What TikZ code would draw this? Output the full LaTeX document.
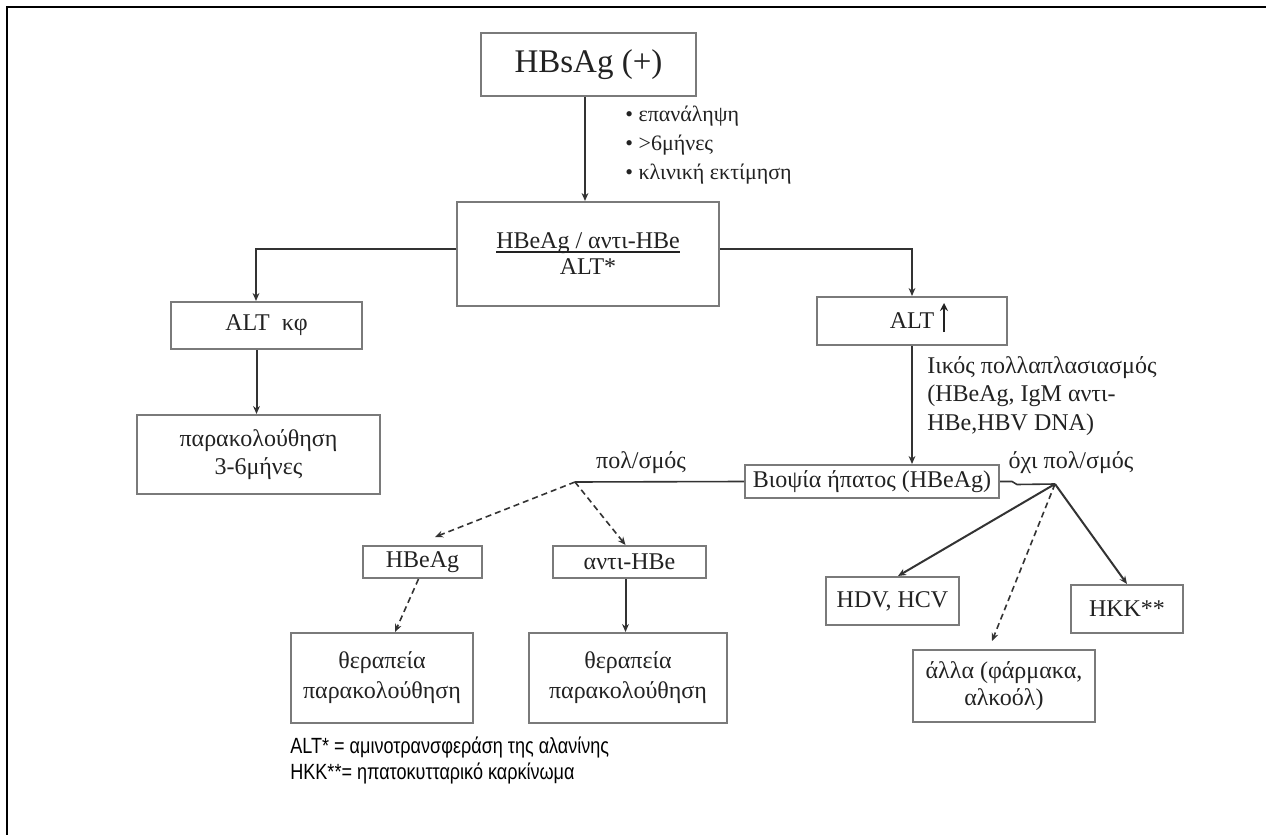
\documentclass[tikz,border=0pt]{standalone}
\usepackage{fontspec}
\setmainfont{Liberation Serif}
\newfontfamily\footfont[FakeStretch=0.82]{Liberation Sans}
\usetikzlibrary{arrows.meta}
\definecolor{boxgray}{HTML}{7A7A7A}
\definecolor{inkgray}{HTML}{222222}
\definecolor{linegray}{HTML}{333333}
\newcommand\myul[1]{\setbox0\hbox{#1}\rlap{\rule[-1.8pt]{\wd0}{0.6pt}}\box0}
\begin{document}
\begin{tikzpicture}[x=0.5pt,y=-0.5pt,
  box/.style={draw=boxgray, line width=1pt, rectangle, inner sep=0pt, align=center,
    text=inkgray, font=\fontsize{12}{14}\selectfont},
  lbl/.style={inner sep=0pt, text=inkgray, font=\fontsize{12}{14}\selectfont},
  arr/.style={draw=linegray, line width=1pt, -{Stealth[length=4pt,width=3.4pt]}},
  ln/.style={draw=linegray, line width=0.8pt},
  dsh/.style={densely dashed, line width=0.8pt}]
\useasboundingbox (0,0) rectangle (1266,835);
\fill[white] (0,0) rectangle (1266,835);
\draw[black, line width=1pt] (7,835) -- (7,7) -- (1266,7);

% nodes
\node[box, minimum width=107.5pt, minimum height=31.5pt, font=\fontsize{16.5}{18}\selectfont] (hbs) at (588.5,64.5) {HBsAg (+)};
\node[box, minimum width=131pt, minimum height=52pt, font=\fontsize{12}{13}\selectfont] (hbe) at (588,254) {\myul{HBeAg / αντι-HBe}\\ALT*};
\node[box, minimum width=95.5pt, minimum height=23.5pt] (altk) at (266.5,325.5) {ALT\ \ κφ};
\node[box, minimum width=121.5pt, minimum height=39.5pt, font=\fontsize{12}{14}\selectfont] (parak) at (258.5,454.5) {παρακολούθηση\\3-6μήνες};
\node[box, minimum width=95pt, minimum height=24pt] (altup) at (912,321) {ALT};
\node[box, minimum width=127pt, minimum height=16.5pt] (bio) at (872,481.5) {Βιοψία ήπατος (HBeAg)};
\node[box, minimum width=59.5pt, minimum height=16pt] (hbeag) at (422.5,562) {HBeAg};
\node[box, minimum width=76.5pt, minimum height=16pt] (antihbe) at (629.5,562) {αντι-HBe};
\node[box, minimum width=91pt, minimum height=45pt, font=\fontsize{12}{15}\selectfont] (ther1) at (382,678) {θεραπεία\\παρακολούθηση};
\node[box, minimum width=99pt, minimum height=45pt, font=\fontsize{12}{15}\selectfont] (ther2) at (628,678) {θεραπεία\\παρακολούθηση};
\node[box, minimum width=66.5pt, minimum height=24pt] (hdv) at (892.5,601) {HDV, HCV};
\node[box, minimum width=91pt, minimum height=36pt, font=\fontsize{12}{13.5}\selectfont] (alla) at (1004,686) {άλλα (φάρμακα,\\αλκοόλ)};
\node[box, minimum width=56pt, minimum height=24pt] (hkk) at (1127,609) {HKK**};

% the up-arrow glyph beside ALT
\draw[draw=inkgray, line width=1.3pt, -{Stealth[length=4pt,width=4pt]}] ([xshift=16pt,yshift=-5.5pt]altup.center) -- ([xshift=16pt,yshift=9pt]altup.center);

% labels
\node[lbl, anchor=west, align=left, font=\fontsize{11}{14.5}\selectfont] (bul) at (625,145) {• επανάληψη\\• >6μήνες\\• κλινική εκτίμηση};
\node[lbl, anchor=west, align=left, font=\fontsize{12}{14.2}\selectfont] (viral) at (927,396) {Ιικός πολλαπλασιασμός\\(HBeAg, IgM αντι-\\HBe,HBV DNA)};
\node[lbl] (pol) at (641,463) {πολ/σμός};
\node[lbl] (ochi) at (1071,463) {όχι πολ/σμός};
\node[anchor=north west, inner sep=0pt, align=left, text=black, font=\footfont\fontsize{11}{13}\selectfont] (foot) at (290,737) {ALT* = αμινοτρανσφεράση της αλανίνης\\HKK**= ηπατοκυτταρικό καρκίνωμα};

\coordinate (j1) at (575,482);
\coordinate (j2) at (1055,484);

% connectors
\draw[arr] ([xshift=-1.75pt]hbs.south) -- ([xshift=-1.5pt]hbe.north);
\draw[arr] ([yshift=2.5pt]hbe.west) -| ([xshift=-5.25pt]altk.north);
\draw[arr] ([yshift=2.5pt]hbe.east) -| (altup.north);
\draw[arr] ([xshift=-5pt]altk.south) -- ([xshift=-5pt]altk.south |- parak.north);
\draw[arr] (altup.south) -- (altup.south |- bio.north);
\draw[ln] (bio.west) -- (j1);
\draw[ln] (bio.east) -- ++(12,0) -- ++(5,3) -- (j2);
\draw[arr, dsh] (j1) -- ([xshift=6.25pt,yshift=4pt]hbeag.north);
\draw[arr, dsh] (j1) -- ([xshift=-2pt]antihbe.north);
\draw[arr, dsh] ([xshift=-2pt]hbeag.south) -- ([xshift=6.5pt]ther1.north);
\draw[arr] ([xshift=-2pt]antihbe.south) -- ([xshift=-2pt]antihbe.south |- ther2.north);
\draw[arr] (j2) -- ([xshift=2.75pt]hdv.north);
\draw[arr, dsh] (j2) -- ([xshift=-6pt,yshift=4pt]alla.north);
\draw[arr] (j2) -- (hkk.north);
\end{tikzpicture}
\end{document}
